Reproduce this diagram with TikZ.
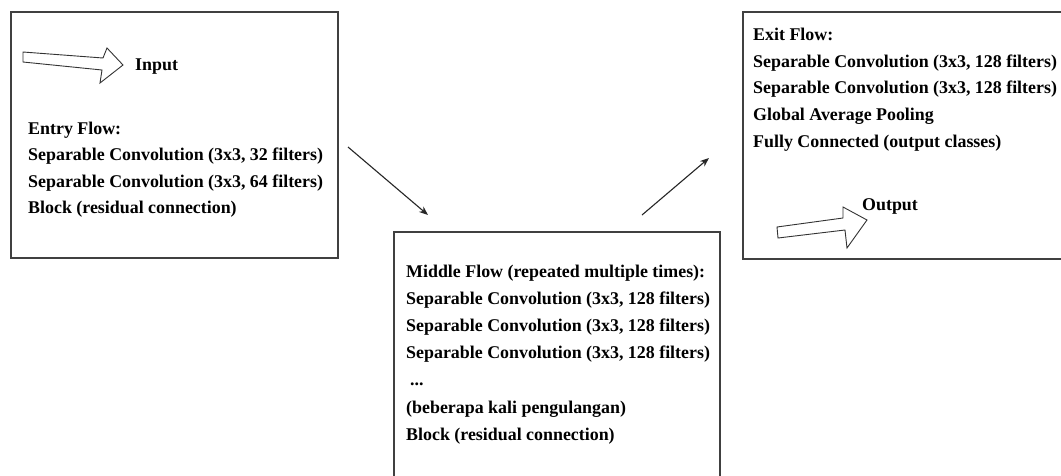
\documentclass[tikz,border=0pt]{standalone}
\usepackage{fontspec}
\setmainfont{Liberation Serif}
\usetikzlibrary{arrows.meta}
\begin{document}
\begin{tikzpicture}[x=1pt,y=-1pt,
  box/.style={draw=black!75,line width=1.1pt,fill=none,inner sep=0pt},
  txt/.style={anchor=base west,inner sep=0pt,font=\fontsize{17.9}{27}\selectfont\bfseries,text=black},
  blockarrow/.style={draw=black!80,line width=0.9pt,fill=white,line join=miter},
  flow/.style={draw=black!85,line width=1.1pt,-{Stealth[length=9pt,width=7pt]}}]
\clip (0,0) rectangle (1061,475);
\fill[white] (0,0) rectangle (1061,475);
% boxes
\draw[box] (11,12) rectangle (338,258);
\draw[box] (394,490) -- (394,232) -- (720,232) -- (720,490);
\draw[box] (1075,12) -- (743,12) -- (743,259) -- (1075,259);
\coordinate (entry) at (11,12);
\coordinate (middle) at (394,232);
\coordinate (exit) at (743,12);
% input block arrow
\draw[blockarrow] (23,52) -- (103,58) -- (107,48) -- (123,65) -- (100,83) -- (102,70) -- (23,62) -- cycle;
\node[txt] (inp) at (135,70) {Input};
% entry text
\node[txt] (e1) at (28,134) {Entry Flow:};
\node[txt] (e2) at (28,160.5) {Separable Convolution (3x3, 32 filters)};
\node[txt] (e3) at (28,187) {Separable Convolution (3x3, 64 filters)};
\node[txt] (e4) at (28,213.5) {Block (residual connection)};
% middle text
\node[txt] (m1) at (406,277) {Middle Flow (repeated multiple times):};
\node[txt] (m2) at (406,304) {Separable Convolution (3x3, 128 filters)};
\node[txt] (m3) at (406,331) {Separable Convolution (3x3, 128 filters)};
\node[txt] (m4) at (406,358) {Separable Convolution (3x3, 128 filters)};
\node[txt] (m5) at (410,385) {...};
\node[txt] (m6) at (406,413) {(beberapa kali pengulangan)};
\node[txt] (m7) at (406,440) {Block (residual connection)};
% exit text
\node[txt] (x1) at (753,40) {Exit Flow:};
\node[txt] (x2) at (753,67) {Separable Convolution (3x3, 128 filters)};
\node[txt] (x3) at (753,93.5) {Separable Convolution (3x3, 128 filters)};
\node[txt] (x4) at (753,120) {Global Average Pooling};
\node[txt] (x5) at (753,147) {Fully Connected (output classes)};
% output block arrow
\draw[blockarrow] (777,227) -- (843,218) -- (843,207) -- (867,220) -- (847,248) -- (845,230) -- (778,238) -- cycle;
\node[txt] (outp) at (862,210) {Output};
% flow arrows
\coordinate (a1) at (348,147);
\coordinate (a2) at (428,215);
\coordinate (b1) at (642,215);
\coordinate (b2) at (709,158);
\draw[flow] (a1) -- (a2);
\draw[flow] (b1) -- (b2);
\end{tikzpicture}
\end{document}
